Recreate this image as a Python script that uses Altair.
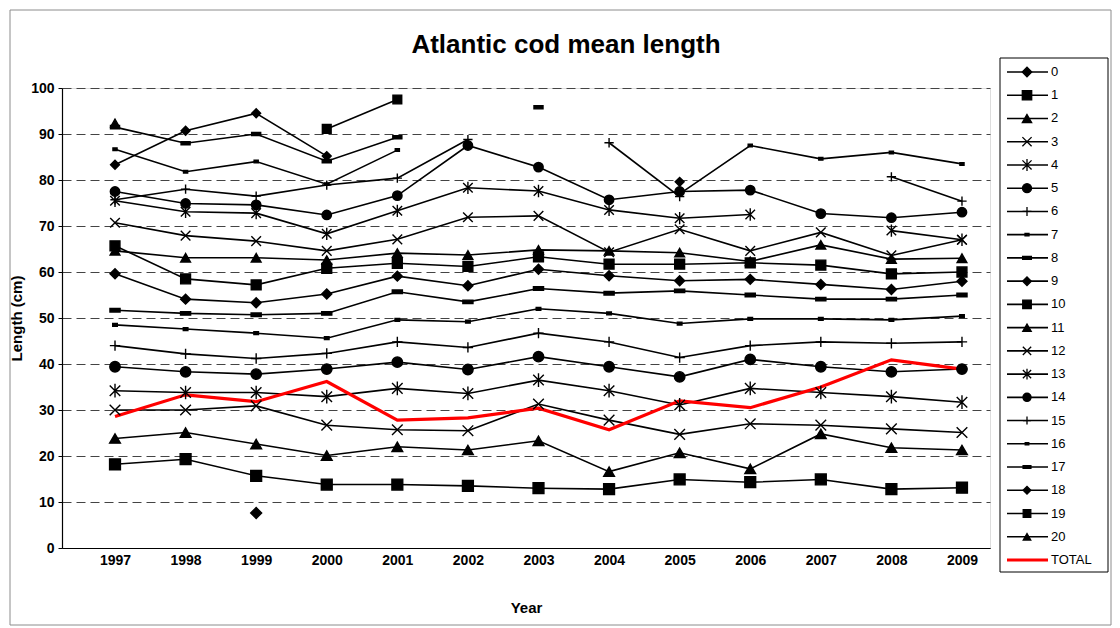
import altair as alt
import pandas as pd

years = list(range(1997, 2010))
series_names = [str(i) for i in range(21)] + ["TOTAL"]

s0 = [None, None, 7.6, None, None, None, None, None, None, None, None, None, None]
s1 = [18.2, 19.3, 15.7, 13.8, 13.8, 13.5, 13.0, 12.8, 14.9, 14.3, 14.9, 12.8, 13.1]
s2 = [23.8, 25.1, 22.6, 20.1, 22.0, 21.3, 23.3, 16.6, 20.7, 17.2, 24.8, 21.8, 21.3]
s3 = [30.0, 30.0, 30.9, 26.7, 25.7, 25.5, 31.3, 27.8, 24.7, 27.0, 26.7, 25.9, 25.1]
s4 = [34.2, 33.8, 33.8, 32.9, 34.7, 33.6, 36.5, 34.2, 31.1, 34.7, 33.8, 32.9, 31.7]
s5 = [39.4, 38.3, 37.8, 38.9, 40.4, 38.8, 41.6, 39.4, 37.2, 41.0, 39.4, 38.3, 38.9]
s6 = [44.0, 42.2, 41.2, 42.3, 44.8, 43.6, 46.7, 44.8, 41.4, 44.0, 44.8, 44.5, 44.8]
s7 = [48.5, 47.6, 46.7, 45.6, 49.6, 49.2, 52.0, 51.0, 48.8, 49.8, 49.8, 49.6, 50.4]
s8 = [51.7, 51.0, 50.7, 51.0, 55.7, 53.5, 56.4, 55.4, 55.9, 55.0, 54.1, 54.1, 55.0]
s9 = [59.6, 54.1, 53.3, 55.2, 59.1, 57.0, 60.6, 59.2, 58.1, 58.4, 57.3, 56.2, 58.0]
s10 = [65.7, 58.5, 57.2, 60.8, 61.9, 61.2, 63.3, 61.7, 61.7, 62.0, 61.5, 59.6, 60.0]
s11 = [64.6, 63.1, 63.1, 62.6, 64.1, 63.7, 64.8, 64.6, 64.2, 62.3, 65.9, 62.8, 63.0]
s12 = [70.7, 67.9, 66.7, 64.6, 67.1, 71.9, 72.2, 64.3, 69.3, 64.6, 68.6, 63.6, 67.0]
s13 = [75.5, 73.1, 72.8, 68.3, 73.3, 78.3, 77.6, 73.5, 71.7, 72.5, None, 69.0, 67.0]
s14 = [77.5, 74.9, 74.6, 72.4, 76.6, 87.5, 82.8, 75.7, 77.5, 77.8, 72.7, 71.8, 73.0]
s15 = [75.7, 78.0, 76.5, 78.9, 80.4, 88.8, None, 88.1, 76.4, None, None, 80.7, 75.4]
s16 = [86.7, 81.8, 84.0, 79.1, 86.5, None, None, None, 77.0, 87.5, 84.6, 86.0, 83.5]
s17 = [91.5, 88.0, 90.0, 84.1, 89.3, None, 95.8, None, None, None, None, None, None]
s18 = [83.3, 90.7, 94.5, 85.2, None, None, None, None, 79.6, None, None, None, None]
s19 = [None, None, None, 91.1, 97.5, None, None, None, None, None, None, None, None]
s20 = [92.4, None, None, None, None, None, None, None, None, None, None, None, None]
total = [28.6, 33.3, 31.8, 36.2, 27.8, 28.3, 30.4, 25.7, 32.0, 30.5, 35.0, 40.9, 38.9]

all_series = [s0, s1, s2, s3, s4, s5, s6, s7, s8, s9, s10, s11, s12, s13, s14,
              s15, s16, s17, s18, s19, s20, total]

title_text = ["Atlantic cod mean length"]

# marker shapes (cycle of 9 as in the original legend)
DIAMOND = "diamond"
SQUARE = "square"
TRI = "triangle-up"
XMARK = "M-1,-1L1,1M-1,1L1,-1"
STAR = "M-1,-1L1,1M-1,1L1,-1M0,-1.3L0,1.3"
CIRCLE = "circle"
PLUS = "M-1,0L1,0M0,-1L0,1"
SDASH = "M-0.45,-0.28L0.45,-0.28L0.45,0.28L-0.45,0.28Z"
DASH = "M-1,-0.35L1,-0.35L1,0.35L-1,0.35Z"
cycle_shapes = [DIAMOND, SQUARE, TRI, XMARK, STAR, CIRCLE, PLUS, SDASH, DASH]
cycle_sizes = [120, 75, 100, 110, 120, 80, 140, 100, 90]
marker_names = series_names[:21]
marker_shapes = [cycle_shapes[i % 9] for i in range(21)]
marker_sizes = [cycle_sizes[i % 9] for i in range(21)]
line_colors = ["black"] * 21 + ["#ff0000"]

rows = []
for name, vals in zip(series_names, all_series):
    seg = 0
    prev = False
    for yr, v in zip(years, vals):
        if v is None:
            prev = False
            continue
        if not prev:
            seg += 1
        prev = True
        rows.append({"series": name, "year": yr, "value": v, "seg": f"{name}_{seg}"})
df = pd.DataFrame(rows)
pts = df[df["series"] != "TOTAL"]
leg = pd.DataFrame({"series": series_names})
leg_pts = leg[leg["series"] != "TOTAL"]

FONT = "Liberation Sans"
XDOM = [1996.249, 2009.397]

xenc = alt.X("year:Q",
             scale=alt.Scale(domain=XDOM, nice=False, zero=False),
             axis=alt.Axis(values=years, format="d", title="Year", grid=False, ticks=False,
                           labelFontSize=14, labelFontWeight="bold", labelFont=FONT,
                           labelColor="black", labelPadding=5,
                           titleFontSize=15, titleFontWeight="bold", titleFont=FONT,
                           titleColor="black", titlePadding=33,
                           domainColor="black", domainWidth=1.2, labelFlush=False))
yenc = alt.Y("value:Q",
             scale=alt.Scale(domain=[0, 100], nice=False),
             axis=alt.Axis(values=list(range(0, 101, 10)), title="Length (cm)",
                           grid=True, gridColor="#444444", gridDash=[9, 5], gridWidth=1,
                           tickSize=4, tickColor="black", labelPadding=4,
                           labelFontSize=14, labelFontWeight="bold", labelFont=FONT,
                           labelColor="black",
                           titleFontSize=15, titleFontWeight="bold", titleFont=FONT,
                           titleColor="black", titlePadding=6,
                           domainColor="black", domainWidth=1.2))

color_scale = alt.Scale(domain=series_names, range=line_colors)
sw = alt.condition(alt.datum.series == "TOTAL", alt.value(3.2), alt.value(1.6))

lines = alt.Chart(df).mark_line(strokeJoin="miter").encode(
    x=xenc, y=yenc,
    color=alt.Color("series:N", scale=color_scale, legend=None),
    strokeWidth=sw,
    detail="seg:N",
    order="year:Q",
)

points = alt.Chart(pts).mark_point(filled=True, fill="black", stroke="black",
                                   strokeWidth=1.4, opacity=1).encode(
    x=xenc, y=yenc,
    shape=alt.Shape("series:N", scale=alt.Scale(domain=marker_names, range=marker_shapes), legend=None),
    size=alt.Size("series:N", scale=alt.Scale(domain=marker_names, range=marker_sizes), legend=None),
)

main = alt.layer(lines, points)

# manual legend (Excel-style: line with marker)
leg_y = alt.Y("series:N", scale=alt.Scale(type="point", domain=series_names, range=[-16, 472], padding=0), axis=None)

frame = alt.Chart(pd.DataFrame({"k": [0]})).mark_rect(fill="transparent", stroke="#8c8c8c", strokeWidth=1).encode(
    x=alt.value(-52), x2=alt.value(1049), y=alt.value(-78), y2=alt.value(537)
)
title = alt.Chart(pd.DataFrame({"t": title_text})).mark_text(
    align="center", baseline="middle", font=FONT, fontSize=26, fontWeight="bold", color="black"
).encode(x=alt.value(504), y=alt.value(-43), text="t:N")

box = alt.Chart(pd.DataFrame({"k": [0]})).mark_rect(fill="white", stroke="black", strokeWidth=1).encode(
    x=alt.value(938), x2=alt.value(1046), y=alt.value(-30), y2=alt.value(484)
)
leg_lines = alt.Chart(leg).mark_rule().encode(
    x=alt.value(945), x2=alt.value(986), y=leg_y,
    color=alt.Color("series:N", scale=color_scale, legend=None),
    strokeWidth=sw,
)
leg_marks = alt.Chart(leg_pts).mark_point(filled=True, fill="black", stroke="black",
                                          strokeWidth=1.3, opacity=1).encode(
    x=alt.value(965), y=leg_y,
    shape=alt.Shape("series:N", scale=alt.Scale(domain=marker_names, range=marker_shapes), legend=None),
    size=alt.Size("series:N", scale=alt.Scale(domain=marker_names, range=[s * 0.75 for s in marker_sizes]), legend=None),
)
leg_text = alt.Chart(leg).mark_text(align="left", baseline="middle", font=FONT, fontSize=13, color="black").encode(
    x=alt.value(989), y=leg_y, text="series:N"
)
legend_layer = alt.layer(box, leg_lines, leg_marks, leg_text)

chart = alt.layer(main, frame, title, legend_layer).resolve_scale(
    y="independent", color="independent",
    shape="independent", size="independent"
).properties(
    width=928, height=460,
    autosize=alt.AutoSizeParams(type="none"),
    padding={"left": 54, "top": 80, "right": 122, "bottom": 78},
).configure_view(stroke="transparent").configure(background="white")

chart.save("out.html", embed_options={"renderer": "svg", "actions": False})
